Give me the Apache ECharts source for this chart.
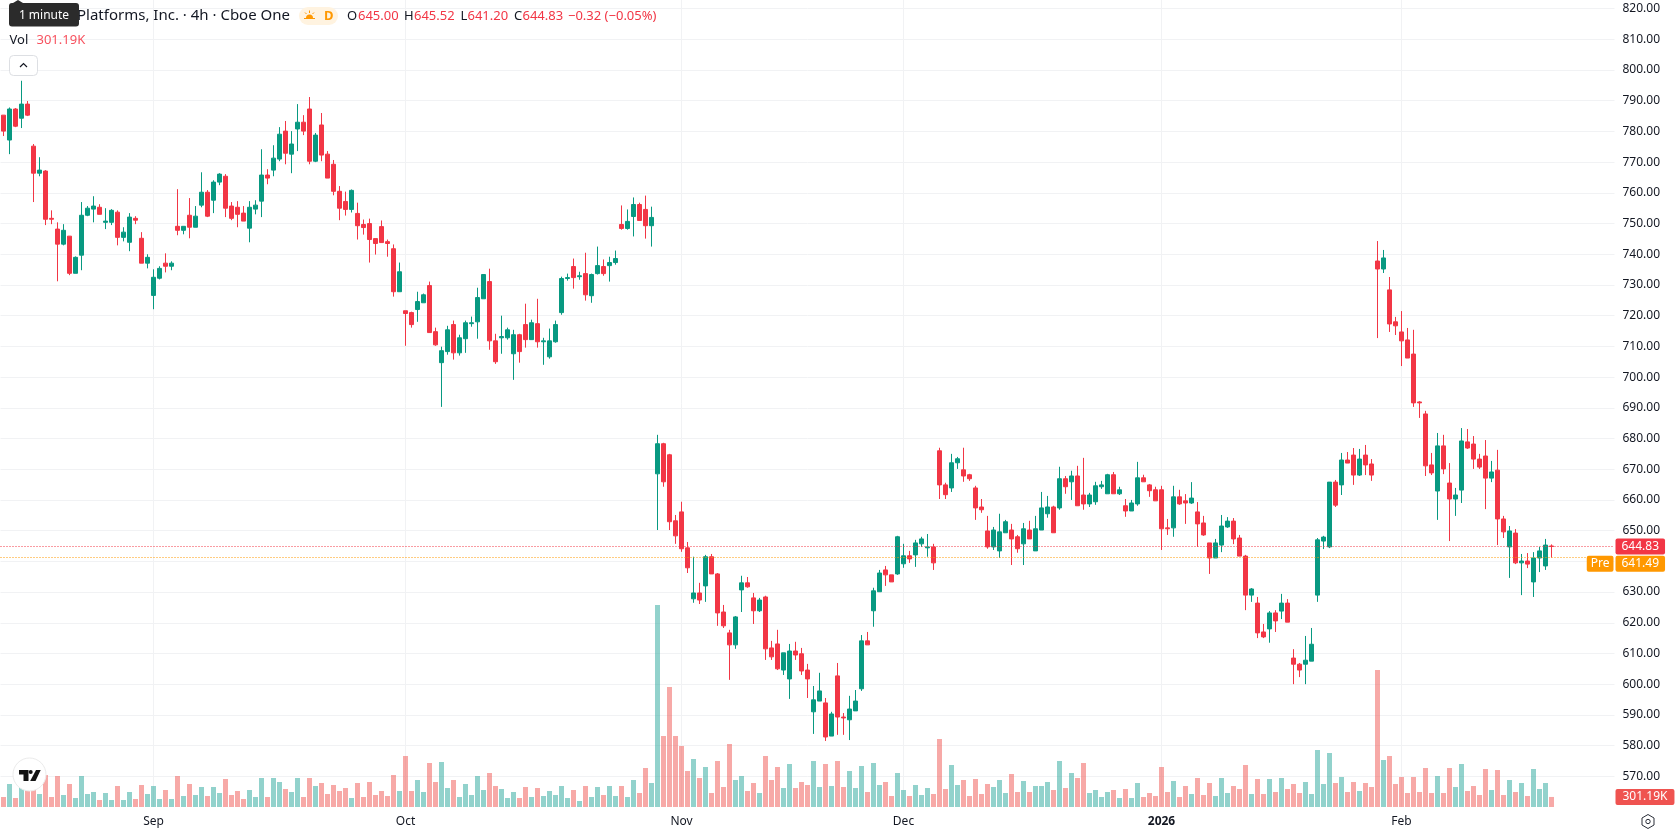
<!DOCTYPE html>
<html>
<head>
<meta charset="utf-8">
<title>Meta Platforms, Inc. 4h</title>
<style>
html,body{margin:0;padding:0;background:#fff;overflow:hidden}
#chart{width:1678px;height:835px}
</style>
<script src="https://cdn.jsdelivr.net/npm/echarts@6/dist/echarts.min.js"></script>
</head>
<body>
<div id="chart"></div>
<script>
// Candles per calendar month, each row is [open, close, low, high]
const augCandles = [
[785.3,780.1,778.5,785.3],[777.2,787.3,772.6,787.8],[787.3,781.7,781.4,787.6],[784.3,788.9,781.1,796.5],[788.9,785.3,785.0,789.9],
[775.2,766.4,757.0,775.9],[766.4,767.4,765.4,771.6],[767.1,751.4,749.5,767.4],[751.7,751.4,749.8,754.3],[748.2,743.3,731.2,750.4],
[743.3,747.8,742.9,749.8],[745.9,733.8,733.2,745.9],[733.8,739.0,733.8,739.3],[739.7,752.7,734.8,757.0],[752.7,755.0,752.4,755.7],
[754.7,755.7,750.4,758.9],[755.3,753.0,753.0,756.3],[750.4,750.8,748.2,755.0],[750.4,754.3,749.5,754.7],[753.7,745.5,742.9,754.3],
[745.5,747.2,744.2,748.8],[743.9,752.1,741.0,753.4],[751.7,751.1,749.8,752.4],[745.2,737.1,737.1,747.2],[737.1,739.0,735.4,740.0]];
const sepCandles = [
[726.6,732.5,722.1,735.1],[732.2,735.4,731.8,736.1],[737.1,736.1,734.1,740.3],[736.1,737.1,734.8,737.7],[749.1,747.8,746.2,761.2],
[747.8,749.1,746.5,749.1],[752.7,748.8,745.2,758.3],[748.8,752.4,748.8,755.7],[756.0,760.2,755.3,766.7],[760.2,752.4,752.1,760.9],
[757.6,763.5,753.4,764.1],[763.5,766.1,762.5,766.4],[765.4,755.0,752.1,766.1],[755.7,751.7,751.1,757.0],[755.3,753.0,748.8,757.3],
[753.4,750.8,750.8,755.7],[748.5,755.3,743.9,757.3],[754.7,756.0,753.0,757.6],[757.3,765.8,752.1,774.2],[765.8,764.8,762.8,767.7],
[767.4,771.3,765.4,775.5],[771.0,779.1,770.3,781.4],[780.1,772.9,769.3,783.4],[772.6,775.9,766.4,780.1],[780.8,783.0,773.6,788.9],
[783.0,780.1,778.8,785.3],[787.3,770.3,769.3,791.2],[770.3,778.8,770.0,779.5],[782.1,772.3,770.3,786.0],[772.6,764.8,764.8,773.6],
[769.3,760.5,759.2,770.7],[760.5,755.0,751.1,762.2],[757.2,754.6,752.6,760.4],[754.6,760.8,753.6,761.1],[753.3,749.3,744.8,756.8],
[749.7,748.7,746.4,751.3],[750.0,744.8,737.3,751.6],[745.1,743.5,739.9,745.1],[749.0,743.8,743.8,751.0],[744.1,743.5,739.2,744.8],
[741.8,727.8,726.2,743.2],[727.8,734.3,727.8,737.3]];
const octCandles = [
[721.6,720.7,710.2,721.6],[721.0,717.1,716.1,721.3],[722.0,724.6,718.0,727.8],[724.2,726.8,724.2,727.2],[729.8,714.5,714.5,731.1],
[714.8,710.5,710.2,716.1],[704.7,708.6,690.3,709.9],[708.3,715.4,707.3,716.7],[717.1,707.9,705.7,718.4],[707.9,712.8,707.0,713.8],
[712.5,717.7,707.9,718.4],[717.4,717.7,716.4,719.7],[718.0,725.9,712.5,729.1],[725.5,733.4,725.5,733.4],[731.1,711.8,708.9,735.3],
[711.8,705.0,704.3,714.1],[712.8,713.2,707.6,720.0],[712.8,715.4,712.2,716.1],[707.6,713.8,699.1,715.4],[713.8,708.3,704.7,714.1],
[717.1,712.2,709.6,723.9],[712.2,717.7,712.2,718.7],[717.4,711.5,709.6,725.5],[711.5,711.8,704.0,712.8],[706.6,711.8,706.0,715.8],
[711.5,717.1,711.2,718.4],[721.0,732.1,720.3,732.7],[732.1,732.4,731.4,733.7],[736.0,732.4,728.8,738.6],[732.7,733.0,731.7,734.3],
[733.7,726.8,724.9,740.5],[726.5,733.4,724.2,733.7],[733.7,736.3,733.4,742.5],[736.0,733.7,733.0,738.3],[736.3,737.3,731.1,739.2],
[737.3,738.6,736.6,741.2],[749.7,748.4,748.0,755.9],[748.4,750.7,748.0,754.6],[752.3,756.2,745.8,758.5],[756.2,751.0,751.0,756.8],
[754.6,749.3,745.1,759.1],[749.3,752.0,742.5,755.5],[668.5,678.3,650.2,681.2],[678.3,665.9,664.3,678.6],[674.7,652.9,650.2,675.0],
[653.2,648.3,645.7,655.1]];
const novCandles = [
[656.1,644.1,643.1,659.4],[644.4,637.9,636.2,646.3],[627.8,629.7,626.5,641.5],[629.7,627.4,626.1,633.0],[632.0,641.5,626.8,642.1],
[641.5,635.9,635.9,642.4],[635.9,623.2,619.0,636.2],[623.5,619.0,618.3,625.8],[616.7,612.8,601.4,617.7],[612.8,621.9,611.5,622.2],
[630.7,633.0,623.5,635.3],[633.0,631.7,631.4,634.9],[628.1,623.9,619.6,629.7],[623.9,627.4,623.5,628.1],[628.4,611.5,607.9,628.8],
[611.8,608.9,607.9,614.1],[613.1,605.0,604.6,617.7],[604.6,610.2,603.0,610.2],[601.7,610.8,595.2,613.1],[610.8,609.5,607.9,613.8],
[609.9,604.3,603.0,611.8],[604.6,601.7,595.5,606.6],[591.0,594.9,583.8,599.4],[594.5,597.8,594.5,603.7],[593.9,582.8,581.5,595.5],
[583.1,590.3,583.1,591.0],[602.7,589.3,583.5,606.9],[589.3,589.0,583.5,590.6],[588.4,591.9,581.8,596.2],[591.3,594.5,591.3,598.1],
[598.5,614.1,597.8,616.0],[614.1,612.8,612.8,617.0],[623.9,630.4,618.7,631.4],[630.1,636.2,630.1,637.2],[637.2,635.6,632.0,638.5],
[635.6,633.3,633.3,635.6],[635.9,648.0,635.6,648.3]];
const decCandles = [
[639.2,641.8,637.9,645.7],[641.8,640.8,639.5,643.4],[642.1,646.0,638.2,647.0],[645.7,647.3,644.7,648.0],[644.4,644.7,641.5,648.9],
[644.7,639.5,637.2,645.7],[676.0,664.9,660.3,677.0],[664.9,661.7,660.3,665.6],[663.9,672.1,662.6,675.0],[672.1,673.4,670.1,674.0],
[669.8,667.8,665.9,677.0],[668.2,666.9,666.2,668.5],[663.9,657.4,653.5,664.6],[657.7,656.8,655.8,660.3],[649.9,644.7,644.1,654.8],
[644.7,650.2,643.7,651.2],[643.4,649.6,641.1,655.5],[649.3,652.9,649.3,653.5],[650.2,647.3,638.8,652.2],[648.0,644.1,642.8,648.6],
[645.7,650.6,638.8,652.5],[650.2,647.3,647.3,653.2],[643.4,650.6,643.4,654.8],[650.2,657.4,650.2,662.6],[655.5,657.7,654.2,661.3],
[657.7,649.3,649.3,658.1],[657.4,666.9,656.8,670.8],[666.9,664.3,662.0,667.8],[665.9,667.8,660.0,669.5],[667.8,658.1,658.1,671.1],
[661.6,658.7,656.8,673.7],[658.7,661.6,657.7,662.3],[659.4,664.6,658.4,665.9],[664.3,664.9,663.6,666.2],[662.0,668.2,662.0,668.5],
[668.2,662.0,662.0,669.1],[662.0,663.3,661.6,664.3],[658.1,656.4,654.5,660.3],[656.4,659.0,656.4,660.0],[658.7,667.2,658.1,672.4],
[667.2,665.9,665.9,668.2],[664.9,663.0,661.0,665.2],[663.3,659.7,659.7,664.3]];
const janCandles = [
[663.3,650.6,643.7,664.6],[650.9,650.6,648.6,653.8],[650.9,661.0,648.0,664.6],[661.0,658.7,658.4,663.3],[659.7,659.0,652.2,661.9],
[659.0,660.6,658.7,665.8],[656.1,652.2,644.7,659.3],[652.5,648.6,648.3,654.8],[646.0,641.1,635.9,646.0],[641.1,646.0,641.1,647.3],
[645.3,651.5,643.0,655.1],[651.2,653.1,650.9,654.4],[653.1,647.3,645.6,654.1],[647.6,641.7,641.7,648.6],[641.7,629.0,624.1,642.1],
[629.0,631.0,626.8,631.3],[626.4,616.7,615.0,628.4],[617.0,615.4,615.0,619.6],[618.0,623.2,613.5,623.8],[623.2,620.6,617.0,624.1],
[623.8,626.4,621.2,629.4],[626.4,620.2,620.2,627.7],[608.5,606.5,600.0,611.4],[606.5,604.6,602.3,606.9],[606.5,607.8,600.0,615.7],
[607.5,613.0,607.5,618.3],[629.0,647.0,626.8,647.6],[646.6,647.9,644.0,648.3],[644.7,665.8,644.3,665.8],[665.8,658.3,657.7,666.5],
[664.9,673.0,661.6,675.3],[673.0,672.0,672.0,675.6],[674.6,668.1,664.9,676.9],[668.1,673.3,667.8,676.6],[674.6,671.4,668.1,677.9],
[671.7,668.1,666.2,673.3],[737.8,735.2,712.7,744.3],[735.2,738.8,733.9,741.4],[728.4,717.3,714.7,732.6],[718.0,716.7,713.7,719.6]];
const febCandles = [
[714.7,711.8,703.6,721.5],[712.1,706.2,706.2,716.0],[707.5,691.6,690.3,715.4],[691.9,691.6,686.7,692.2],[688.0,671.1,667.8,689.0],
[671.4,668.8,668.1,675.3],[662.9,677.6,653.5,681.8],[677.6,670.1,668.4,681.2],[665.5,660.3,646.6,672.0],[660.3,661.6,654.8,663.9],
[663.2,679.2,659.0,683.4],[678.9,676.9,676.6,683.1],[678.2,673.3,670.1,680.8],[673.3,670.7,670.1,675.0],[674.3,667.1,657.0,679.5],
[667.1,669.1,665.8,672.7],[669.7,653.8,645.3,676.3],[653.8,649.6,647.6,654.8],[644.7,649.9,634.6,651.5],[649.2,639.5,639.1,650.5],
[639.5,640.1,629.0,642.4],[640.1,639.1,637.8,642.7],[633.3,641.1,628.4,643.0],[641.1,643.4,636.5,644.7],[638.5,645.3,637.2,647.3],
[645.00,644.83,641.20,645.52]];

// Traded volume per bar, in thousands of shares
const augVolumes = [300,690,270,660,600,600,390,960,300,930,360,690,270,930,390,450,210,420,210,630,210,450,240,660,390];
const sepVolumes = [630,240,510,240,930,330,690,360,600,330,600,420,840,360,480,240,510,300,870,300,870,750,540,450,870,300,870,630,720,390,660,480,570,270,720,300,750,360,480,330,960,480];
const octVolumes = [1530,480,810,450,1320,750,1350,570,810,300,690,360,930,510,1020,630,540,270,450,270,600,300,570,330,480,360,630,270,510,180,630,300,600,360,630,330,630,300,810,420,1170,720,6060,2130,3600,2130];
const novVolumes = [1830,1080,1440,870,1200,420,1380,600,1890,810,930,480,720,420,1530,810,1200,570,1290,570,750,660,1380,600,1290,630,1380,600,1080,570,1230,450,1320,660,750,330,1020];
const decVolumes = [510,330,660,360,570,390,2040,540,1260,660,810,330,840,390,690,600,810,420,990,450,780,450,630,630,750,510,1380,570,1020,870,1320,420,510,300,450,510,270,540,270,720,300,420,330];
const janVolumes = [1200,450,780,300,630,390,870,360,720,330,870,420,630,540,1260,390,840,390,840,450,870,540,690,420,750,390,1710,690,1620,720,900,450,750,480,720,600,4110,1410,1530,690];
const febVolumes = [900,420,900,450,1170,420,930,420,1170,600,1290,480,630,360,1140,510,1110,360,810,450,720,330,1140,540,720,301.19];

// Axis ticks and month boundaries, as bar positions
const priceTicks = [560,820,10];
const monthStarts = [[25,'Sep'],[67,'Oct'],[113,'Nov'],[150,'Dec'],[193,'2026'],[233,'Feb']];
const lastClose = 644.83;
const preMarket = 641.49;
const lastVolume = 301.19;
const headerQuote = [['O','645.00',347,358],['H','645.52',404,414],['L','641.20',460.5,467.5],['C','644.83',514,522.5]];
const headerChange = '−0.32 (−0.05%)';

const UP = '#089981', DOWN = '#F23645', VOL_UP = 'rgba(38,166,154,0.5)', VOL_DOWN = 'rgba(239,83,80,0.5)';
const FONT = '"Noto Sans", sans-serif';
const TEXT = '#131722', GRID = '#F1F2F4', SLOTS = 269;
const HIDDEN_LINE = {color: 'rgba(0,0,0,0)', width: 0};

const candles = [].concat(augCandles, sepCandles, octCandles, novCandles, decCandles, janCandles, febCandles);
const volumes = [].concat(augVolumes, sepVolumes, octVolumes, novVolumes, decVolumes, janVolumes, febVolumes);
const categories = Array.from({length: SLOTS}, (_, i) => {
  const m = monthStarts.find(s => s[0] === i);
  return m ? m[1] : String(i);
});
const isMonth = i => monthStarts.some(s => s[0] === i);

function txt(x, y, text, fill, font, align) {
  return {type: 'text', z: 100, silent: true, style: {x, y, text, fill, font, align: align || 'left', textAlign: align || 'left', verticalAlign: 'middle', textVerticalAlign: 'middle'}};
}

// Header strip, badge, and watermark pieces painted above the panes
const overlay = [
  txt(290, 16, 'Meta Platforms, Inc. · 4h · Cboe One', TEXT, '15px ' + FONT, 'right'),
  {type: 'polygon', z: 100, silent: true, shape: {points: [[13, 3], [18, 0], [23, 3]]}, style: {fill: '#2B2B2B'}},
  {type: 'rect', z: 100, silent: true, shape: {x: 9, y: 3, width: 70, height: 23.5, r: 3}, style: {fill: '#2B2B2B'}},
  txt(44, 15.5, '1 minute', '#FFFFFF', '12px ' + FONT, 'center'),
  {type: 'rect', z: 100, silent: true, shape: {x: 299, y: 7, width: 39, height: 18, r: 9}, style: {fill: '#FFF3E0'}},
  {type: 'sector', z: 100, silent: true, shape: {cx: 309.5, cy: 18, r: 3.5, r0: 0, startAngle: Math.PI, endAngle: 2 * Math.PI}, style: {fill: '#FF9800'}},
  {type: 'line', z: 100, silent: true, shape: {x1: 304, y1: 18.5, x2: 315, y2: 18.5}, style: {stroke: '#FF9800', lineWidth: 1}},
  {type: 'line', z: 100, silent: true, shape: {x1: 309.5, y1: 10.5, x2: 309.5, y2: 13}, style: {stroke: '#FF9800', lineWidth: 1}},
  {type: 'line', z: 100, silent: true, shape: {x1: 305, y1: 12.5, x2: 306.5, y2: 14}, style: {stroke: '#FF9800', lineWidth: 1}},
  {type: 'line', z: 100, silent: true, shape: {x1: 314, y1: 12.5, x2: 312.5, y2: 14}, style: {stroke: '#FF9800', lineWidth: 1}},
  txt(324, 16, 'D', '#FF9800', 'bold 13px ' + FONT),
  txt(568, 16.5, headerChange, DOWN, '13px ' + FONT),
  txt(9.5, 40.5, 'Vol', TEXT, '13px ' + FONT),
  txt(36.5, 40.5, '301.19K', '#F7525F', '13px ' + FONT),
  {type: 'rect', z: 100, silent: true, shape: {x: 9.5, y: 55.5, width: 28, height: 20, r: 4}, style: {fill: '#FFFFFF', stroke: '#DDDFE3', lineWidth: 1}},
  {type: 'polyline', z: 100, silent: true, shape: {points: [[20, 67], [23.5, 63.5], [27, 67]]}, style: {fill: 'none', stroke: TEXT, lineWidth: 1.2}},
  {type: 'circle', z: 100, silent: true, shape: {cx: 29.5, cy: 774.5, r: 16.5}, style: {fill: '#FFFFFF', stroke: '#EBEBEB', lineWidth: 1}},
  {type: 'polygon', z: 100, silent: true, shape: {points: [[19, 770], [28.5, 770], [28.5, 781], [23.5, 781], [23.5, 774.5], [19, 774.5]]}, style: {fill: '#131313'}},
  {type: 'circle', z: 100, silent: true, shape: {cx: 30.7, cy: 772, r: 2}, style: {fill: '#131313'}},
  {type: 'polygon', z: 100, silent: true, shape: {points: [[36, 770], [40.7, 770], [35.5, 781], [30.2, 781]]}, style: {fill: '#131313'}},
  {type: 'polygon', z: 100, silent: true, shape: {points: [[1648, 814.5], [1654, 818], [1654, 825], [1648, 828.5], [1642, 825], [1642, 818]]}, style: {fill: 'none', stroke: '#2A2E39', lineWidth: 1}},
  {type: 'circle', z: 100, silent: true, shape: {cx: 1648, cy: 821.5, r: 2.2}, style: {fill: 'none', stroke: '#2A2E39', lineWidth: 1}}
];
headerQuote.forEach(q => {
  overlay.push(txt(q[2], 16.5, q[0], TEXT, '13px ' + FONT));
  overlay.push(txt(q[3], 16.5, q[1], DOWN, '13px ' + FONT));
});

const tag = (bg, extra) => Object.assign({show: true, position: 'end', distance: 1, color: '#FFFFFF', backgroundColor: bg, fontFamily: FONT, fontSize: 12, padding: [2, 6, 2, 6], borderRadius: 2}, extra);

const chart = echarts.init(document.getElementById('chart'), null, {renderer: 'canvas'});
chart.setOption({
  animation: false,
  backgroundColor: '#FFFFFF',
  textStyle: {fontFamily: FONT},
  grid: [
    {left: 0.5, right: 63.5, top: 8.6, bottom: 28},
    {left: 0.5, right: 63.5, top: 0, bottom: 28}
  ],
  xAxis: [
    {type: 'category', gridIndex: 0, data: categories, axisLine: {show: false}, axisTick: {show: false}, axisLabel: {show: false}, splitLine: {show: false}},
    {type: 'category', gridIndex: 1, data: categories, axisLine: {show: false}, axisTick: {show: false},
      axisLabel: {
        interval: isMonth, color: TEXT, fontFamily: FONT, fontSize: 12, margin: 9, hideOverlap: false,
        formatter: v => v === '2026' ? '{y|2026}' : v,
        rich: {y: {fontWeight: 'bold', fontSize: 12, color: TEXT, fontFamily: FONT}}
      },
      splitLine: {show: true, interval: isMonth, alignWithLabel: true, lineStyle: {color: GRID, width: 1}}
    }
  ],
  yAxis: [
    {type: 'value', gridIndex: 0, position: 'right', min: priceTicks[0], max: priceTicks[1], interval: priceTicks[2], axisLine: {show: false}, axisTick: {show: false},
      axisLabel: {color: TEXT, fontFamily: FONT, fontSize: 12, margin: 8, showMinLabel: false, formatter: v => v.toFixed(2)},
      splitLine: {show: true, showMinLine: false, lineStyle: {color: GRID, width: 1}}},
    {type: 'value', gridIndex: 1, min: 0, max: 24210, axisLine: {show: false}, axisTick: {show: false}, axisLabel: {show: false}, splitLine: {show: false}}
  ],
  series: [
    {
      type: 'bar', name: 'Vol', xAxisIndex: 1, yAxisIndex: 1, barWidth: 5, z: 1,
      data: volumes.map((v, i) => ({value: v, itemStyle: {color: candles[i][1] >= candles[i][0] ? VOL_UP : VOL_DOWN}})),
      markLine: {
        silent: true, symbol: 'none', animation: false,
        lineStyle: HIDDEN_LINE,
        label: tag('#EF5350', {formatter: lastVolume.toFixed(2) + 'K', padding: [2, 7, 2, 7]}),
        data: [{yAxis: lastVolume}]
      }
    },
    {
      type: 'candlestick', name: 'META', xAxisIndex: 0, yAxisIndex: 0, barWidth: 4, z: 2,
      itemStyle: {color: UP, color0: DOWN, borderColor: UP, borderColor0: DOWN, borderWidth: 1},
      data: candles,
      markLine: {
        silent: true, symbol: 'none', animation: false,
        data: [
          {yAxis: preMarket, lineStyle: {color: '#FF9800', type: [1, 2], width: 1},
            label: tag('#FF9800', {formatter: preMarket.toFixed(2), offset: [0, 7]})},
          {yAxis: preMarket, lineStyle: HIDDEN_LINE,
            label: tag('#FF9800', {position: 'insideEndBottom', distance: 0, formatter: 'Pre', padding: [2, 4, 2, 4], offset: [-1, -1]})},
          {yAxis: lastClose, lineStyle: {color: DOWN, type: [1, 2], width: 1},
            label: tag(DOWN, {formatter: lastClose.toFixed(2)})}
        ]
      }
    }
  ],
  graphic: {elements: overlay}
});
</script>
</body>
</html>
